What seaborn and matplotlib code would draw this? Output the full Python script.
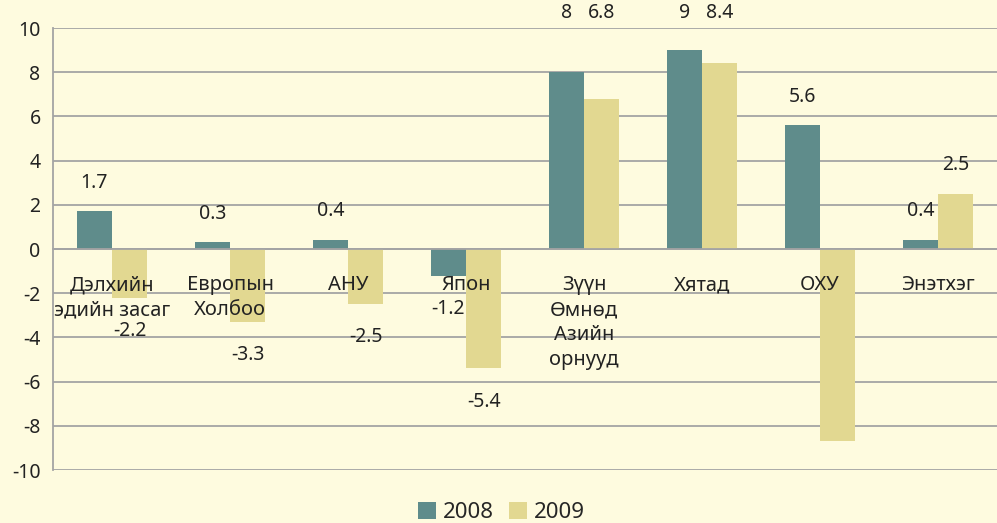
import pandas as pd
import numpy as np
import seaborn as sns
import matplotlib.pyplot as plt

# -------------------------------
# 1. Data
# -------------------------------
categories = ["Дэлхийн\nэдийн засаг", "Европын\nХолбоо", "АНУ", "Япон",
              "Зүүн\nӨмнөд\nАзийн\nорнууд", "Хятад", "ОХУ", "Энэтхэг"]
growth_2008 = [1.7, 0.3, 0.4, -1.2, 8, 9, 5.6, 0.4]
growth_2009 = [-2.2, -3.3, -2.5, -5.4, 6.8, 8.4, -8.7, 2.5]
years = ["2008", "2009"]
# value labels that are shown (the ОХУ 2009 bar carries none)
show_2009 = [True, True, True, True, True, True, False, True]

df = pd.DataFrame({
    "category": categories * 2,
    "year": [years[0]] * len(categories) + [years[1]] * len(categories),
    "value": growth_2008 + growth_2009,
})

# -------------------------------
# 2. Style
# -------------------------------
bg = "#FEFBDF"
grid_col = "#A4A4A4"
txt_col = "#222222"
palette = {"2008": "#5F8C8B", "2009": "#E2D891"}

sns.set_style("white")
plt.rcParams["font.family"] = ["Noto Sans", "DejaVu Sans"]
plt.rcParams["axes.unicode_minus"] = False

fig = plt.figure(figsize=(9.97, 5.23), dpi=100, facecolor=bg)
ax = fig.add_axes([0.0532, 0.1013, 0.9468, 0.8451])
ax.set_facecolor(bg)

sns.barplot(data=df, x="category", y="value", hue="year", palette=palette,
            width=0.6, saturation=1, linewidth=0, ax=ax, legend=True)

# -------------------------------
# 3. Axes
# -------------------------------
ax.set_ylim(-10, 10)
ax.set_xlim(-0.5, len(categories) - 0.5)
ax.set_yticks(np.arange(-10, 11, 2))
ax.yaxis.grid(True, color=grid_col, lw=1.3)
ax.set_axisbelow(True)
ax.set_xlabel("")
ax.set_ylabel("")

for side in ["top", "right"]:
    ax.spines[side].set_visible(False)
ax.spines["left"].set_color(grid_col)
ax.spines["left"].set_linewidth(1.3)
ax.spines["bottom"].set_position(("data", 0))
ax.spines["bottom"].set_color(grid_col)
ax.spines["bottom"].set_linewidth(1.3)

ax.tick_params(axis="y", length=6, color=grid_col, width=1.3,
               labelsize=14, labelcolor=txt_col, pad=3)
ax.set_xticks(range(len(categories)))
ax.set_xticklabels([])
ax.tick_params(axis="x", which="major", length=0)
ax.set_xticks(np.arange(-0.5, len(categories), 1), minor=True)
ax.tick_params(axis="x", which="minor", length=5, color=grid_col, width=1.3)

# category names just under the zero line
for i, name in enumerate(categories):
    ax.annotate(name, (i, 0), xytext=(0, -19), textcoords="offset points",
                ha="center", va="top", fontsize=14.5, color=txt_col,
                linespacing=1.32)

# value labels
offs = 0.6 * 0.5 / 2
for i in range(len(categories)):
    for v, dx, show in [(growth_2008[i], -offs, True), (growth_2009[i], offs, show_2009[i])]:
        if not show:
            continue
        if v >= 0:
            y = v + 1.3 if v + 1.3 < 7.5 else 10.7
        else:
            y = v - 1.5
        ax.text(i + dx, y, f"{v:g}", ha="center", va="center", fontsize=14,
                color=txt_col)

# legend at the bottom
handles, labels = ax.get_legend_handles_labels()
ax.legend(handles, labels, loc="center", bbox_to_anchor=(0.503, 0.02),
          bbox_transform=fig.transFigure, ncol=2, frameon=False,
          fontsize=16, handlelength=0.82, handleheight=0.82,
          columnspacing=0.7, handletextpad=0.3)

fig.savefig("out.png", dpi=100, facecolor=bg)
